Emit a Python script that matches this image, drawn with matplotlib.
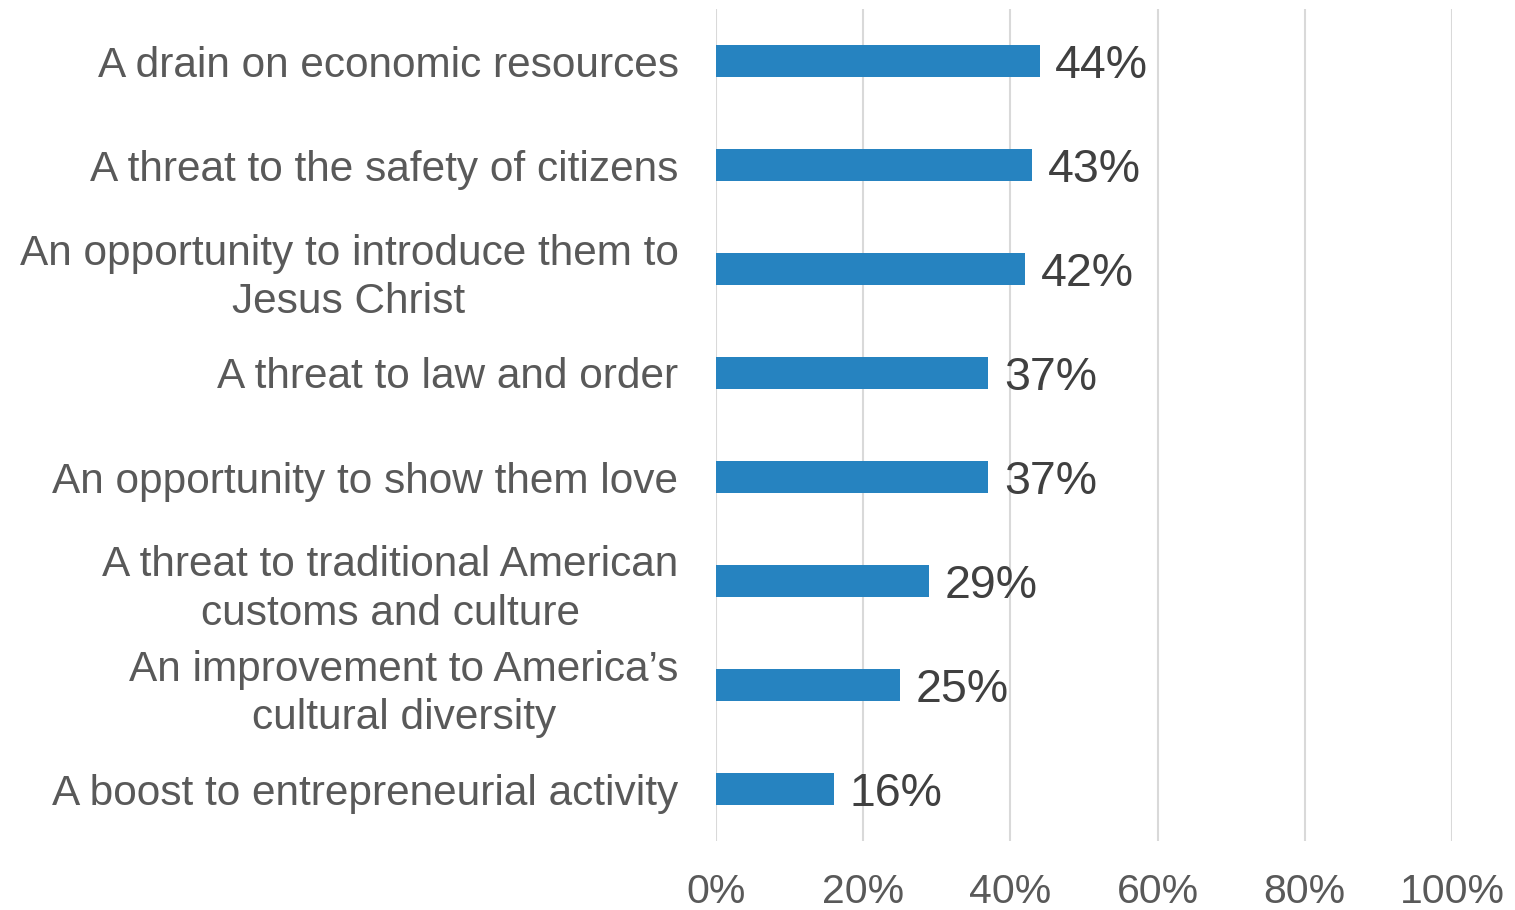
import numpy as np
import matplotlib.pyplot as plt
from matplotlib.ticker import FixedLocator

plt.rcParams['font.family'] = ['Liberation Sans', 'DejaVu Sans']

# ==================== 数据 ====================
categories = [
    "A drain on economic resources",
    "A threat to the safety of citizens",
    "An opportunity to introduce them to\nJesus Christ",
    "A threat to law and order",
    "An opportunity to show them love",
    "A threat to traditional American\ncustoms and culture",
    "An improvement to America\u2019s\ncultural diversity",
    "A boost to entrepreneurial activity",
]
values = [44, 43, 42, 37, 37, 29, 25, 16]
x_ticks = [0, 20, 40, 60, 80, 100]
x_tick_labels = ["0%", "20%", "40%", "60%", "80%", "100%"]

bar_color = '#2683C0'
grid_color = '#D9D9D9'
label_color = '#595959'
value_color = '#404040'

# ==================== 绘图 ====================
fig = plt.figure(figsize=(15.15, 9.10), dpi=100)
ax = fig.add_axes([716 / 1515, 1 - 841 / 910, (1452 - 716) / 1515, 832 / 910])

y = np.arange(len(categories))
ax.barh(y, values, height=0.31, color=bar_color, zorder=3)

for yi, v in zip(y, values):
    ax.text(v + 2.1, yi + 0.05, f"{v}%", va='center', ha='left',
            fontsize=33.5, color=value_color, zorder=4)

ax.set_xlim(0, 100)
ax.set_ylim(len(categories) - 0.5, -0.5)

ax.xaxis.set_major_locator(FixedLocator(x_ticks))
ax.set_xticklabels(x_tick_labels, fontsize=29.5, color=label_color)
ax.set_yticks(y)
ax.set_yticklabels(categories, fontsize=30.5, color=label_color,
                   multialignment='center', linespacing=1.28)

ax.tick_params(axis='both', length=0)
ax.tick_params(axis='x', pad=23)
ax.tick_params(axis='y', pad=27)

ax.grid(axis='x', color=grid_color, linewidth=1.5, zorder=0)
for s in ax.spines.values():
    s.set_visible(False)

plt.savefig('out.png', dpi=100)
plt.close()
